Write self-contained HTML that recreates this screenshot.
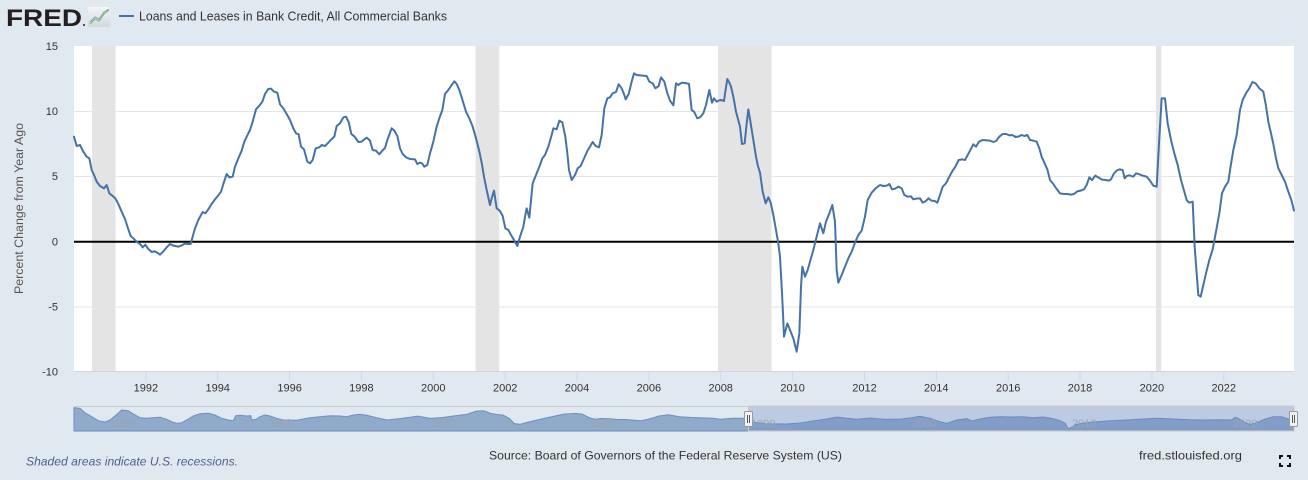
<!DOCTYPE html>
<html><head><meta charset="utf-8"><style>
html,body{margin:0;padding:0;background:#e1e9f0;}
svg{display:block;font-family:"Liberation Sans",Arial,sans-serif;}
</style></head><body>
<svg width="1308" height="480" viewBox="0 0 1308 480" xmlns="http://www.w3.org/2000/svg">
<rect width="1308" height="480" fill="#e1e9f0"/>
<!-- header -->
<text x="6" y="26" font-size="24" font-weight="bold" fill="#231f20" textLength="76" lengthAdjust="spacingAndGlyphs">FRED</text>
<circle cx="84" cy="25" r="1" fill="#231f20"/>
<defs><linearGradient id="ig" x1="0" y1="0" x2="0" y2="1"><stop offset="0" stop-color="#f4f6f8"/><stop offset="1" stop-color="#cfd8e0"/></linearGradient></defs>
<rect x="88" y="7" width="22" height="20" rx="2" fill="url(#ig)"/>
<polyline points="90,24 95,19 99,21 104,14 109,10" fill="none" stroke="#8fbf6a" stroke-width="1.3"/>
<polyline points="90,22 95,17 99,19 104,12 109,9" fill="none" stroke="#7da0c8" stroke-width="1"/>
<line x1="119" y1="16" x2="134" y2="16" stroke="#4572a7" stroke-width="2"/>
<text x="139" y="20.5" font-size="12.5" fill="#333" textLength="308" lengthAdjust="spacingAndGlyphs">Loans and Leases in Bank Credit, All Commercial Banks</text>

<!-- plot -->
<rect x="74" y="46" width="1220" height="326" fill="#fff"/>
<g fill="#e4e4e4">
<rect x="92" y="46" width="23.5" height="326"/>
<rect x="475.5" y="46" width="23.8" height="326"/>
<rect x="718" y="46" width="53.5" height="326"/>
<rect x="1156" y="46" width="5.3" height="326"/>
</g>
<g stroke="#e6e6e6" stroke-width="1">
<line x1="74" y1="111.5" x2="1294" y2="111.5"/>
<line x1="74" y1="176.5" x2="1294" y2="176.5"/>
<line x1="74" y1="307" x2="1294" y2="307"/>
</g>
<line x1="74" y1="371.5" x2="1294" y2="371.5" stroke="#ccd6eb" stroke-width="1"/>
<g stroke="#ccd6eb" stroke-width="1">
<line x1="145.9" y1="372" x2="145.9" y2="381"/><line x1="217.7" y1="372" x2="217.7" y2="381"/>
<line x1="289.6" y1="372" x2="289.6" y2="381"/><line x1="361.4" y1="372" x2="361.4" y2="381"/>
<line x1="433.3" y1="372" x2="433.3" y2="381"/><line x1="505.2" y1="372" x2="505.2" y2="381"/>
<line x1="577" y1="372" x2="577" y2="381"/><line x1="648.9" y1="372" x2="648.9" y2="381"/>
<line x1="720.7" y1="372" x2="720.7" y2="381"/><line x1="792.6" y1="372" x2="792.6" y2="381"/>
<line x1="864.5" y1="372" x2="864.5" y2="381"/><line x1="936.3" y1="372" x2="936.3" y2="381"/>
<line x1="1008.2" y1="372" x2="1008.2" y2="381"/><line x1="1080" y1="372" x2="1080" y2="381"/>
<line x1="1151.9" y1="372" x2="1151.9" y2="381"/><line x1="1223.8" y1="372" x2="1223.8" y2="381"/>
</g>
<line x1="74" y1="241.7" x2="1294" y2="241.7" stroke="#000" stroke-width="2"/>

<!-- series -->
<g fill="none" stroke="#4572a7" stroke-width="2" stroke-linejoin="round" stroke-linecap="round">
<polyline vector-effect="non-scaling-stroke" transform="translate(60 40) scale(0.333333)" points="42,290 50,318 60,315 70,335 80,350 88,355 95,390 102,405 110,425 120,438 132,445 140,435 148,460 158,468 166,475 175,492 185,515 195,537 205,568 212,588 220,595 230,605 240,612 248,622 256,614 265,627 275,636 283,634 292,638 300,644 310,634 320,622 330,612 340,617 355,620 365,616 375,611 385,612 392,612 398,590 405,565 415,540 428,516 436,520 445,508 455,492 465,478 475,466 483,455 490,432 500,402 508,412 518,410 525,380 535,355 545,332 553,305 560,290 570,270 578,245 588,208 598,197 607,185 615,162 625,147 633,146 642,155 652,158 660,193 670,205 680,222 690,240 700,265 708,280 716,283 723,320 732,328 742,365 750,370 758,360 767,325 778,322 785,315 795,318 803,310 812,300 823,290 830,258 840,250 850,232 858,230 866,246 874,282 884,290 895,306 905,305 913,298 920,293 930,302 938,330 948,332 958,343 966,333 975,324 982,300 995,265 1003,272"/>
<polyline vector-effect="non-scaling-stroke" transform="translate(390 40) scale(0.333333)" points="13,272 22,288 30,325 38,342 48,352 60,357 75,358 82,372 90,368 96,370 103,380 112,375 120,340 130,305 140,260 148,235 157,210 165,162 175,150 183,138 193,124 200,132 208,150 218,182 228,215 238,235 248,260 258,295 267,330 275,368 282,410 290,450 300,495 305,475 312,452 320,505 330,513 338,528 346,565 355,570 362,583 372,600 382,618 390,590 400,560 407,520 410,505 418,533 428,430 440,400 450,375 457,355 465,345 475,320 485,285 490,265 500,268 508,242 517,247 526,290 532,340 537,390 545,420 555,405 563,385 572,378 580,360 592,333 600,320 608,306 617,318 627,322 635,285 643,205 652,175 660,172 668,160 678,156 686,133 695,145 703,165 707,178 716,162 725,125 732,100 740,105 750,106 770,108 778,125 788,130 796,145 806,138 813,112 823,125 832,160 840,182 850,196 858,130 865,135 872,130 878,128 890,130 897,132 905,210 912,215 922,235 930,232 940,220 948,195 958,150 966,188 972,175 980,185 990,180 998,182"/>
<polyline vector-effect="non-scaling-stroke" transform="translate(700 40) scale(0.333333)" points="64,180 72,183 76,155 82,117 88,128 93,140 100,170 108,215 116,245 120,260 126,312 134,310 140,250 145,208 152,250 160,300 168,350 173,375 180,398 188,455 197,490 205,472 212,488 220,525 228,570 235,610 240,650 245,740 249,820 252,890 262,850 270,870 280,895 290,935 298,880 303,740 307,680 315,710 323,690 332,658 340,630 350,590 360,550 370,580 378,545 388,520 397,495 405,545 410,690 415,728 425,705 435,680 445,655 455,635 465,608 475,585 485,572 495,530 503,480 515,458 527,445 540,435 550,438 560,437 568,432 576,448 585,446 596,440 605,445 613,465 623,470 633,469 640,478 648,476 660,475 668,488 676,484 686,475 694,482 704,483 712,488 720,465 728,440 738,430 748,410 758,392 766,380 776,360 786,358 795,360 802,347 810,332 820,313 828,320 837,305 848,300 860,301 870,302 880,306 888,303 898,290 908,282 918,282 928,286 936,285 946,290"/>
<polyline vector-effect="non-scaling-stroke" transform="translate(990 40) scale(0.333333)" points="75,291 85,290 95,285 103,288 112,285 120,300 130,302 140,305 148,325 155,350 163,368 172,388 180,420 190,432 200,447 210,460 222,462 232,462 242,464 252,462 262,454 272,452 282,448 290,435 298,412 306,420 316,407 326,413 336,419 346,420 356,422 363,418 372,400 380,392 388,388 398,390 404,415 410,408 418,406 430,410 438,400 446,402 455,406 470,410 482,425 490,437 500,440 507,310 515,175 525,175 533,250 543,300 553,340 563,375 573,420 583,455 590,480 597,488 608,485 614,620 620,700 625,765 632,770 640,735 648,700 658,660 668,628 678,575 688,520 696,460 705,440 715,425 722,378 730,330 740,285 750,210 758,180 768,160 778,145 787,126 797,130 808,145 820,155 828,198 835,245 843,280 850,312 858,355 865,385 875,405 885,425 895,455 904,480 912,512"/>
</g>

<!-- y axis labels -->
<g font-size="11" fill="#333" text-anchor="end">
<text x="58" y="50">15</text>
<text x="58" y="115">10</text>
<text x="58" y="180">5</text>
<text x="58" y="245.5">0</text>
<text x="58" y="310.5">-5</text>
<text x="58" y="375.5">-10</text>
</g>
<text transform="translate(23 208.5) rotate(-90)" font-size="11.5" fill="#555" text-anchor="middle" textLength="171" lengthAdjust="spacingAndGlyphs">Percent Change from Year Ago</text>

<!-- x axis labels -->
<g font-size="11" fill="#333" text-anchor="middle">
<text x="145.9" y="391.5">1992</text><text x="217.7" y="391.5">1994</text>
<text x="289.6" y="391.5">1996</text><text x="361.4" y="391.5">1998</text>
<text x="433.3" y="391.5">2000</text><text x="505.2" y="391.5">2002</text>
<text x="577" y="391.5">2004</text><text x="648.9" y="391.5">2006</text>
<text x="720.7" y="391.5">2008</text><text x="792.6" y="391.5">2010</text>
<text x="864.5" y="391.5">2012</text><text x="936.3" y="391.5">2014</text>
<text x="1008.2" y="391.5">2016</text><text x="1080" y="391.5">2018</text>
<text x="1151.9" y="391.5">2020</text><text x="1223.8" y="391.5">2022</text>
</g>

<!-- navigator -->
<path d="M74,431 L74,407.7 80,408.3 85,412.7 91.7,416.7 98.3,420.7 105,422 110,420 115,416 121.7,410 128.3,410.7 133.3,414 140,417.7 146.7,418.3 153.3,417.7 160,417.3 166.7,419.3 171.7,421.7 176.7,423.3 181.7,422.7 186.7,420 193.3,416 200,413.7 208.3,413.3 215,415 221.7,418.3 228.3,420 233.3,420.7 235.7,415.7 240,415.3 246.7,416 250.7,415.7 251.7,420 256,419.3 260,416.7 265,415 270,416 276.7,418.3 283.3,420 290,420 296.7,420.3 303.3,419 310,417.7 320,416.7 330,415.7 340,416 346.7,416.7 353.3,415 360,414.3 366.7,415.3 376.7,417.7 386.7,420 396.7,419 406.7,417.7 417.7,416.1 430.3,418.4 442.7,417.5 455.2,415.8 467.7,414.1 476.1,411.1 483.6,410.7 490.7,413.4 496.9,414.5 503.2,415.1 509.4,418.5 514.4,423.6 519.8,424.3 526.1,422.6 538.6,419.6 551.1,416.9 563.6,414.1 576.1,413.4 582.3,414.1 588.6,417.5 594.8,419.2 601.1,418.5 609.4,418.8 617.7,419.5 626.1,419.5 634.4,420.2 640.7,420.9 646.9,419.5 654.4,417.5 658.3,416.1 668.7,414.8 679.2,416.8 691.7,417.5 700,417.7 713.3,418.3 720,419.3 733.3,418.3 744.3,418.3 753.3,422.3 766.7,423.7 786.7,424 800,423 813.3,421 826.7,419 836.7,417 846.7,418.3 856.7,419.3 870,418 883.3,419.3 900,419.3 911.7,417.7 920,416.3 930,418.3 940,421.7 946.7,423.3 956.7,420 966.7,418.7 971.7,421 980,419 990,417.3 1000,416.7 1013.3,417 1023.3,416.7 1033.3,417.7 1043.3,417 1053.3,418.7 1060,420.7 1065,423.3 1068.3,428.7 1071.7,427.3 1075,425 1083.3,423 1096.7,421.7 1110,420.7 1120,420.3 1126.7,420 1143.3,419 1156.7,418.3 1173.3,419 1190,419.7 1206.7,420 1220,419.7 1231.7,420 1235,417.3 1238.3,418.3 1243.3,421.7 1250,424.3 1256.7,422.7 1263.3,419.7 1273.3,416.7 1281.7,416.7 1288.3,419 1291.7,420 1294,421 L1294,431 Z" fill="#8faaca" stroke="#6f8fbf" stroke-width="1"/>
<rect x="748.5" y="406" width="545.5" height="25" fill="rgba(102,133,194,0.3)" stroke="#c8c8c8" stroke-width="1"/>
<g font-size="11" fill="#9aa4b2">
<text x="110" y="427">1950</text><text x="270" y="427">1960</text>
<text x="431" y="427">1970</text><text x="591" y="427">1980</text>
<text x="751" y="427">1990</text><text x="912" y="427">2000</text>
<text x="1072" y="427">2010</text><text x="1233" y="427">2020</text>
</g>
<line x1="74" y1="406.5" x2="1294" y2="406.5" stroke="#cccccc" stroke-width="1"/>
<g fill="#f2f2f2" stroke="#999" stroke-width="1">
<rect x="744.5" y="411.5" width="8" height="15" rx="1"/>
<rect x="1289.5" y="411.5" width="8" height="15" rx="1"/>
</g>
<g stroke="#555" stroke-width="1">
<line x1="747.5" y1="415" x2="747.5" y2="423"/><line x1="749.5" y1="415" x2="749.5" y2="423"/>
<line x1="1292.5" y1="415" x2="1292.5" y2="423"/><line x1="1294.5" y1="415" x2="1294.5" y2="423"/>
</g>

<!-- footer -->
<text x="26" y="465.5" font-size="12" font-style="italic" fill="#4f5f8c" textLength="212" lengthAdjust="spacingAndGlyphs">Shaded areas indicate U.S. recessions.</text>
<text x="489" y="459.5" font-size="12" fill="#333" textLength="353" lengthAdjust="spacingAndGlyphs">Source: Board of Governors of the Federal Reserve System (US)</text>
<text x="1139" y="459.5" font-size="12" fill="#333" textLength="103" lengthAdjust="spacingAndGlyphs">fred.stlouisfed.org</text>
<g fill="none" stroke="#111" stroke-width="2">
<polyline points="1280,459 1280,456 1283,456"/>
<polyline points="1287,456 1290,456 1290,459"/>
<polyline points="1280,463 1280,466 1283,466"/>
<polyline points="1287,466 1290,466 1290,463"/>
</g>
</svg>
</body></html>
